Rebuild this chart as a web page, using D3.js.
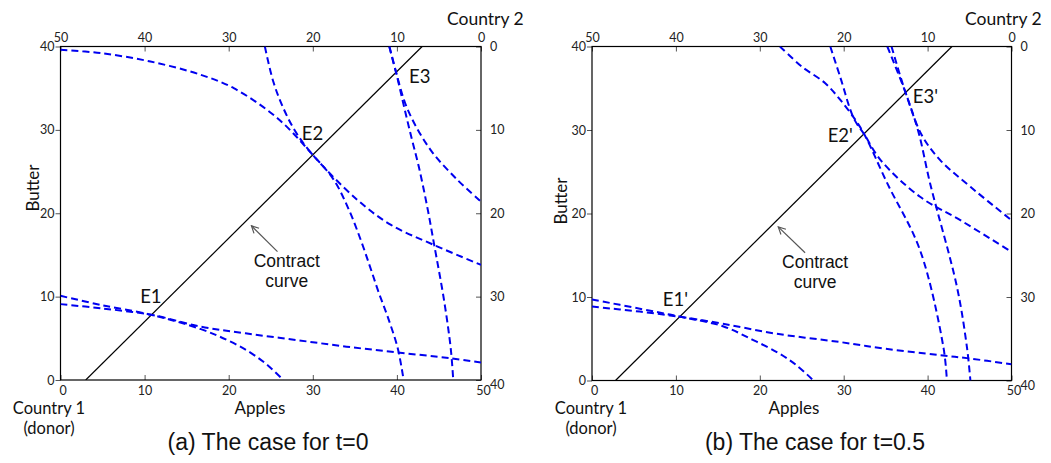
<!DOCTYPE html>
<html>
<head>
<meta charset="utf-8">
<script src="https://cdn.jsdelivr.net/npm/d3@7"></script>
<style>
    body { margin: 0; background: #fff; }
    svg { display: block; }
    .tick text { font-family: Lato, "Noto Sans", sans-serif; font-size: 12.5px; fill: #222; }
    .tick line { stroke: #555; }
    .lbl { font-family: Lato, "Noto Sans", sans-serif; fill: #111; }
    .arial { font-family: "Liberation Sans", Arial, sans-serif; fill: #111; }
</style>
</head>
<body>
<svg id="chart" width="1051" height="463"></svg>
<script>
// tick values of the box axes
const appleTicks = [0, 10, 20, 30, 40, 50];
const butterTicks = [0, 10, 20, 30, 40];

// t = 0 : indifference curves as [apples, butter], measured from Country 1's origin
const t0_c1_E1 = [[0, 10.1], [4.8, 9.0], [10.9, 7.8], [16.7, 6.1], [19.8, 4.8], [22.4, 3.4], [24.6, 1.8], [26.5, 0]];
const t0_c2_E1 = [[0, 9.1], [4.8, 8.6], [10.9, 7.8], [16.7, 6.4], [22, 5.6], [28, 4.8], [34, 4.0], [40.1, 3.3], [46.4, 2.6], [50, 2.1]];
const t0_c1_E2 = [[0, 39.6], [4.8, 39.2], [10.7, 38.2], [16.7, 36.6], [20.6, 35.0], [25.8, 31.4], [30, 27], [32.5, 24.0], [34.3, 20.4], [35.7, 16.8], [36.8, 13.6], [37.8, 10.6], [38.9, 7.6], [40.1, 3.8], [40.8, 0]];
const t0_c2_E2 = [[24.3, 40], [25.3, 35.8], [26.5, 32.6], [28.0, 29.7], [30, 27], [35.3, 21.6], [39.3, 18.6], [44.4, 16.2], [50, 13.8]];
const t0_c1_E3 = [[39.1, 40], [39.9, 36.9], [40.8, 33.0], [41.7, 29.2], [42.6, 25.6], [43.6, 20.8], [44.4, 16.4], [45.6, 9.6], [46.4, 3.8], [46.7, 0]];
const t0_c2_E3 = [[39.1, 40], [39.9, 36.9], [41.3, 32.4], [44.0, 27.6], [47.2, 24.0], [50, 21.4]];
const t0_contract = [[3, 0], [43, 40]];
const t0_equilibria = [["E1", 10.9, 7.8], ["E2", 30, 27], ["E3", 39.9, 36.9]];

// t = 0.5
const t5_c1_E1 = [[0, 9.7], [5.7, 8.6], [10.7, 7.6], [15.6, 6.5], [19.1, 4.9], [22.2, 3.3], [24.4, 1.8], [26.4, 0]];
const t5_c2_E1 = [[0, 8.85], [5.7, 8.25], [10.7, 7.6], [15.6, 6.8], [22, 5.6], [29.6, 4.6], [35, 3.8], [41.3, 3.05], [44.9, 2.65], [50, 1.95]];
const t5_c1_E2 = [[22.4, 40], [25.0, 37.6], [27.8, 35.6], [29.6, 33.6], [31.4, 31.2], [32.5, 29.4], [35.2, 23.6], [39.1, 15.6], [41.9, 3.9], [42.3, 0]];
const t5_c2_E2 = [[28.4, 40], [29.6, 36.3], [31.2, 31.4], [32.5, 29.4], [34.4, 26.4], [39.1, 22.0], [43.9, 19.2], [50, 15.4]];
const t5_c1_E3 = [[35.2, 40], [37.4, 34.4], [38.9, 29.8], [40.3, 23.6], [43.5, 11.2], [44.7, 3.9], [45.1, 0]];
const t5_c2_E3 = [[35.7, 40], [37.4, 34.4], [39.3, 29.4], [41.5, 26.4], [45.1, 23.2], [50, 19.2]];
const t5_contract = [[2.8, 0], [42.9, 40]];
const t5_equilibria = [["E1'", 10.7, 7.6], ["E2'", 32.5, 29.4], ["E3'", 37.4, 34.4]];

// panel layout (pixels)
const panels = [
    {
        id: "a", caption: "(a) The case for t=0",
        x0: 60.5, x1: 481, y0: 46.5, y1: 380,
        curves: [t0_c1_E1, t0_c2_E1, t0_c1_E2, t0_c2_E2, t0_c1_E3, t0_c2_E3],
        contract: t0_contract, eq: t0_equilibria,
        eqOffsets: [[-12, -12], [-11, -15], [13, 11]],
        butterX: 39, butterY: 188, applesX: 260, c1X: 49, c2X: 447, captionX: 268,
        note: [26.9, 13.6], arrow: [[25.8, 15.4], [22.7, 18.5]]
    },
    {
        id: "b", caption: "(b) The case for t=0.5",
        x0: 592, x1: 1011.5, y0: 46.5, y1: 380.5,
        curves: [t5_c1_E1, t5_c2_E1, t5_c1_E2, t5_c2_E2, t5_c1_E3, t5_c2_E3],
        contract: t5_contract, eq: t5_equilibria,
        eqOffsets: [[-19, -11], [-37, 7], [7, 10]],
        butterX: 567, butterY: 201, applesX: 794, c1X: 591, c2X: 965, captionX: 815,
        note: [26.6, 13.5], arrow: [[25.4, 15.3], [22.2, 18.4]]
    }
];

const svg = d3.select("#chart");

svg.append("defs").append("marker")
    .attr("id", "head")
    .attr("viewBox", "0 0 10 10")
    .attr("refX", 9).attr("refY", 5)
    .attr("markerWidth", 9).attr("markerHeight", 9)
    .attr("markerUnits", "userSpaceOnUse")
    .attr("orient", "auto")
    .append("path")
    .attr("d", "M1,1 L9,5 L1,9")
    .attr("fill", "none")
    .attr("stroke", "#555")
    .attr("stroke-width", 1.3);

panels.forEach(function(p) {
    // Country 1 scales (origin bottom-left) and Country 2 scales (origin top-right)
    const x = d3.scaleLinear().domain([0, 50]).range([p.x0, p.x1]);
    const y = d3.scaleLinear().domain([0, 40]).range([p.y1, p.y0]);
    const x2 = d3.scaleLinear().domain([50, 0]).range([p.x0, p.x1]);
    const y2 = d3.scaleLinear().domain([0, 40]).range([p.y0, p.y1]);

    const g = svg.append("g");

    g.append("clipPath").attr("id", "clip-" + p.id)
        .append("rect")
        .attr("x", p.x0).attr("y", p.y0)
        .attr("width", p.x1 - p.x0).attr("height", p.y1 - p.y0);

    // axes
    g.append("g").attr("transform", "translate(0," + p.y1 + ")")
        .call(d3.axisBottom(x).tickValues(appleTicks).tickSize(-5).tickPadding(6))
        .call(function(a) {
            a.select(".domain").remove();
            a.selectAll(".tick text").attr("dx", function(d) { return d === 0 ? 2 : (d === 50 ? 2 : 0); });
        });
    g.append("g").attr("transform", "translate(0," + p.y0 + ")")
        .call(d3.axisTop(x2).tickValues(appleTicks).tickSize(-5).tickPadding(5))
        .call(function(a) { a.select(".domain").remove(); });
    g.append("g").attr("transform", "translate(" + p.x0 + ",0)")
        .call(d3.axisLeft(y).tickValues(butterTicks).tickSize(5).tickPadding(1))
        .call(function(a) { a.select(".domain").remove(); });
    g.append("g").attr("transform", "translate(" + p.x1 + ",0)")
        .call(d3.axisRight(y2).tickValues(butterTicks).tickSize(-5).tickPadding(9))
        .call(function(a) {
            a.select(".domain").remove();
            a.selectAll(".tick text").filter(function(d) { return d === 40; }).attr("dy", "0.7em");
        });

    // box frame
    g.append("rect")
        .attr("x", p.x0).attr("y", p.y0)
        .attr("width", p.x1 - p.x0).attr("height", p.y1 - p.y0)
        .attr("fill", "none")
        .attr("stroke", "#000")
        .attr("stroke-width", 1.2);

    const plot = g.append("g").attr("clip-path", "url(#clip-" + p.id + ")");

    // contract curve
    plot.append("line")
        .attr("x1", x(p.contract[0][0])).attr("y1", y(p.contract[0][1]))
        .attr("x2", x(p.contract[1][0])).attr("y2", y(p.contract[1][1]))
        .attr("stroke", "#000")
        .attr("stroke-width", 1.2);

    // indifference curves
    const line = d3.line()
        .x(function(d) { return x(d[0]); })
        .y(function(d) { return y(d[1]); })
        .curve(d3.curveCatmullRom.alpha(0.5));

    plot.selectAll(".ic")
        .data(p.curves)
        .enter().append("path")
        .attr("class", "ic")
        .attr("d", line)
        .attr("fill", "none")
        .attr("stroke", "#0000f0")
        .attr("stroke-width", 2)
        .attr("stroke-dasharray", "7,4");

    // equilibrium labels
    g.selectAll(".eq")
        .data(p.eq)
        .enter().append("text")
        .attr("class", "lbl")
        .attr("x", function(d, i) { return x(d[1]) + p.eqOffsets[i][0]; })
        .attr("y", function(d, i) { return y(d[2]) + p.eqOffsets[i][1]; })
        .attr("font-size", 18.5)
        .text(function(d) { return d[0]; });

    // contract curve note and arrow
    const note = g.append("text").attr("class", "arial")
        .attr("font-size", 17.5)
        .attr("text-anchor", "middle");
    note.append("tspan").attr("x", x(p.note[0])).attr("y", y(p.note[1])).text("Contract");
    note.append("tspan").attr("x", x(p.note[0])).attr("dy", 20).text("curve");

    g.append("line")
        .attr("x1", x(p.arrow[0][0])).attr("y1", y(p.arrow[0][1]))
        .attr("x2", x(p.arrow[1][0])).attr("y2", y(p.arrow[1][1]))
        .attr("stroke", "#555")
        .attr("stroke-width", 1.2)
        .attr("marker-end", "url(#head)");

    // axis titles
    g.append("text").attr("class", "lbl")
        .attr("transform", "translate(" + p.butterX + "," + p.butterY + ") rotate(-90)")
        .attr("text-anchor", "middle")
        .attr("font-size", 17)
        .text("Butter");
    g.append("text").attr("class", "lbl")
        .attr("x", p.applesX).attr("y", 414)
        .attr("text-anchor", "middle")
        .attr("font-size", 17)
        .text("Apples");
    g.append("text").attr("class", "lbl")
        .attr("x", p.c1X).attr("y", 414)
        .attr("text-anchor", "middle")
        .attr("font-size", 16.5)
        .text("Country 1");
    g.append("text").attr("class", "lbl")
        .attr("x", p.c1X).attr("y", 434)
        .attr("text-anchor", "middle")
        .attr("font-size", 16.5)
        .text("(donor)");
    g.append("text").attr("class", "lbl")
        .attr("x", p.c2X).attr("y", 25)
        .attr("font-size", 17.5)
        .text("Country 2");

    // caption
    g.append("text").attr("class", "arial")
        .attr("x", p.captionX).attr("y", 450)
        .attr("text-anchor", "middle")
        .attr("font-size", 23)
        .text(p.caption);
});
</script>
</body>
</html>
